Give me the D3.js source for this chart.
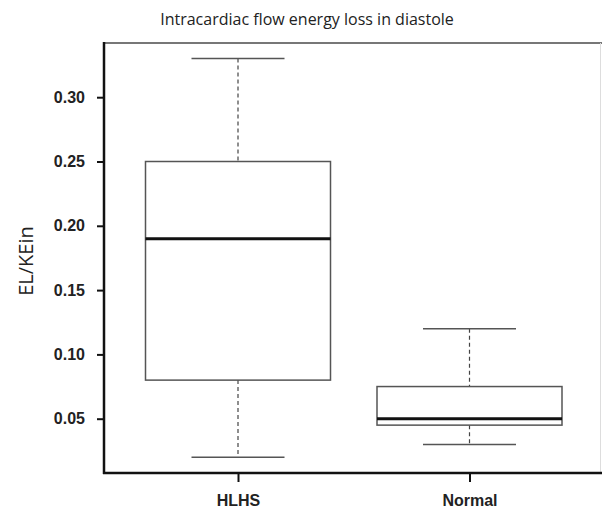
<!DOCTYPE html>
<html><head><meta charset="utf-8">
<script src="https://cdn.jsdelivr.net/npm/d3@7"></script>
<style>body{margin:0;background:#fff}</style>
</head><body>
<svg id="c" width="602" height="508"></svg>
<script>
const categories = ["HLHS", "Normal"];
const mins    = [0.02, 0.03];
const q1s     = [0.08, 0.045];
const medians = [0.19, 0.05];
const q3s     = [0.25, 0.075];
const maxs    = [0.33, 0.12];
const yTicks  = [0.05, 0.10, 0.15, 0.20, 0.25, 0.30];
const title = "Intracardiac flow energy loss in diastole";
const yLabel = "EL/KEin";

const svg = d3.select("#c");
const pLeft = 104, pTop = 43, pBottom = 473;
const y = d3.scaleLinear().domain([0, 0.3]).range([483, 97.2]);
const x = d3.scalePoint().domain(categories).range([238, 469.5]);
const boxW = 185, capW = 93;

// frame (top and right light)
svg.append("line").attr("x1", pLeft).attr("x2", 602).attr("y1", pTop).attr("y2", pTop)
  .attr("stroke", "#777").attr("stroke-width", 2);
svg.append("line").attr("x1", 600.5).attr("x2", 600.5).attr("y1", pTop).attr("y2", pBottom)
  .attr("stroke", "#ddd").attr("stroke-width", 1);

// y axis
const yAxis = d3.axisLeft(y).tickValues(yTicks).tickFormat(d3.format(".2f")).tickSize(7).tickPadding(12);
const gy = svg.append("g").attr("transform", `translate(${pLeft},0)`).call(yAxis);
gy.select(".domain").remove();
gy.selectAll(".tick line").attr("stroke", "#111").attr("stroke-width", 2);
gy.selectAll(".tick text").attr("font-family", "Liberation Sans, Arial, sans-serif")
  .attr("font-size", 16).attr("font-weight", "bold").attr("fill", "#222");
svg.append("line").attr("x1", pLeft).attr("x2", pLeft).attr("y1", pTop - 1).attr("y2", pBottom + 1)
  .attr("stroke", "#111").attr("stroke-width", 2.5);

// x axis
const xAxis = d3.axisBottom(x).tickSize(9).tickPadding(13);
const gx = svg.append("g").attr("transform", `translate(0,${pBottom})`).call(xAxis);
gx.select(".domain").remove();
gx.selectAll(".tick line").attr("stroke", "#111").attr("stroke-width", 2);
gx.selectAll(".tick text").attr("font-family", "Liberation Sans, Arial, sans-serif")
  .attr("font-size", 16).attr("font-weight", "bold").attr("fill", "#222");
svg.append("line").attr("x1", pLeft - 1).attr("x2", 602).attr("y1", pBottom).attr("y2", pBottom)
  .attr("stroke", "#111").attr("stroke-width", 2.5);

// boxes
categories.forEach((c, i) => {
  const cx = x(c);
  const g = svg.append("g");
  g.append("line").attr("x1", cx).attr("x2", cx).attr("y1", y(maxs[i])).attr("y2", y(q3s[i]))
    .attr("stroke", "#444").attr("stroke-width", 1.2).attr("stroke-dasharray", "4,3");
  g.append("line").attr("x1", cx).attr("x2", cx).attr("y1", y(q1s[i])).attr("y2", y(mins[i]))
    .attr("stroke", "#444").attr("stroke-width", 1.2).attr("stroke-dasharray", "4,3");
  [maxs[i], mins[i]].forEach(v => {
    g.append("line").attr("x1", cx - capW / 2).attr("x2", cx + capW / 2).attr("y1", y(v)).attr("y2", y(v))
      .attr("stroke", "#555").attr("stroke-width", 1.5);
  });
  g.append("rect").attr("x", cx - boxW / 2).attr("width", boxW)
    .attr("y", y(q3s[i])).attr("height", y(q1s[i]) - y(q3s[i]))
    .attr("fill", "#fff").attr("stroke", "#555").attr("stroke-width", 1.5);
  g.append("line").attr("x1", cx - boxW / 2).attr("x2", cx + boxW / 2).attr("y1", y(medians[i])).attr("y2", y(medians[i]))
    .attr("stroke", "#111").attr("stroke-width", 3);
});

svg.append("text").attr("x", 307).attr("y", 25).attr("text-anchor", "middle")
  .attr("font-family", "Open Sans, sans-serif").attr("font-size", 16).attr("fill", "#222").text(title);
svg.append("text").attr("transform", "translate(33,261) rotate(-90)").attr("text-anchor", "middle")
  .attr("font-family", "Open Sans, sans-serif").attr("font-size", 20).attr("fill", "#222").text(yLabel);
</script>
</body></html>
